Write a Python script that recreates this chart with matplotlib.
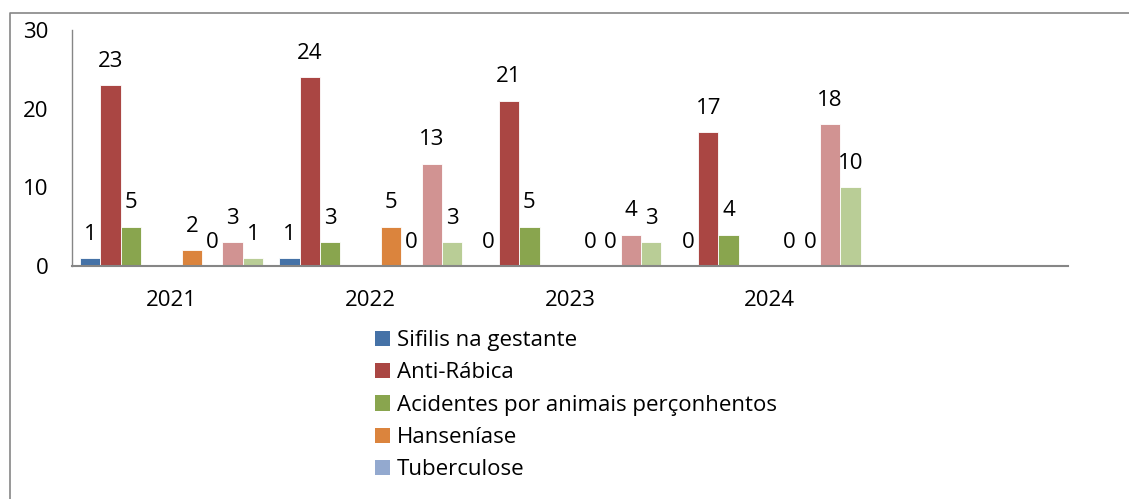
import numpy as np
import matplotlib
matplotlib.use("Agg")
import matplotlib.pyplot as plt
from matplotlib.patches import Patch
from matplotlib.lines import Line2D

plt.rcParams['font.family'] = ['Open Sans', 'DejaVu Sans']

# data
years = ['2021', '2022', '2023', '2024', '']
series_names = ['Sifilis na gestante', 'Anti-Rábica', 'Acidentes por animais perçonhentos',
                'Série 4', 'Série 5', 'Hanseníase', 'Tuberculose', 'Série 8', 'Série 9']
sifilis = [1, 1, 0, 0, np.nan]
anti_rabica = [23, 24, 21, 17, np.nan]
acidentes = [5, 3, 5, 4, np.nan]
serie4 = [np.nan] * 5
serie5 = [np.nan] * 5
hanseniase = [2, 5, 0, 0, np.nan]
tuberculose = [0, 0, 0, 0, np.nan]
serie8 = [3, 13, 4, 18, np.nan]
serie9 = [1, 3, 3, 10, np.nan]
values = [sifilis, anti_rabica, acidentes, serie4, serie5, hanseniase, tuberculose, serie8, serie9]
colors = ['#4572A7', '#AA4643', '#89A54E', '#71588F', '#4198AF',
          '#DB843D', '#93A9CF', '#D19392', '#B9CD96']
legend_idx = [0, 1, 2, 5, 6]

W, H = 1129, 499
FS = 16
fig = plt.figure(figsize=(W / 100, H / 100), dpi=100)
ax = fig.add_axes([72 / W, 1 - 266 / H, (1068 - 72) / W, (266 - 30) / H])

x = np.arange(len(years))
n = len(values)
bw = 0.102
for i, (vals, c) in enumerate(zip(values, colors)):
    vals = np.array(vals, dtype=float)
    pos = x + (i - (n - 1) / 2) * bw
    ax.bar(pos, np.nan_to_num(vals), bw, color=c, edgecolor='white', linewidth=0.6)
    for p, v in zip(pos, vals):
        if not np.isnan(v):
            ax.annotate(f'{v:.0f}', (p, v), xytext=(0, 24), textcoords='offset pixels',
                        ha='center', va='center', fontsize=FS)

ax.set_xlim(-0.5, len(years) - 0.5)
ax.set_ylim(0, 30)
ax.set_yticks([0, 10, 20, 30])
ax.set_xticks(x[:4])
ax.set_xticklabels(years[:4])
ax.tick_params(axis='both', length=0, labelsize=FS)
ax.tick_params(axis='y', pad=17)
ax.tick_params(axis='x', pad=17)
for s in ['top', 'right']:
    ax.spines[s].set_visible(False)
ax.spines['left'].set_color('#868686')
ax.spines['left'].set_linewidth(1.0)
ax.spines['bottom'].set_color('#868686')
ax.spines['bottom'].set_linewidth(1.5)

handles = [Patch(facecolor=colors[i]) for i in legend_idx]
labels = [series_names[i] for i in legend_idx]
fig.legend(handles, labels, loc='upper left', bbox_to_anchor=(375 / W, 1 - 330 / H),
           frameon=False, fontsize=FS, borderpad=0, borderaxespad=0,
           handlelength=0.68, handleheight=0.68, handletextpad=0.32, labelspacing=0.51)

# chart area border (cropped)
fig.add_artist(Line2D([9.5 / W, 9.5 / W, 1], [0, 1 - 13 / H, 1 - 13 / H],
                      color='#868686', linewidth=1.2))

fig.savefig('out.png', dpi=100)
